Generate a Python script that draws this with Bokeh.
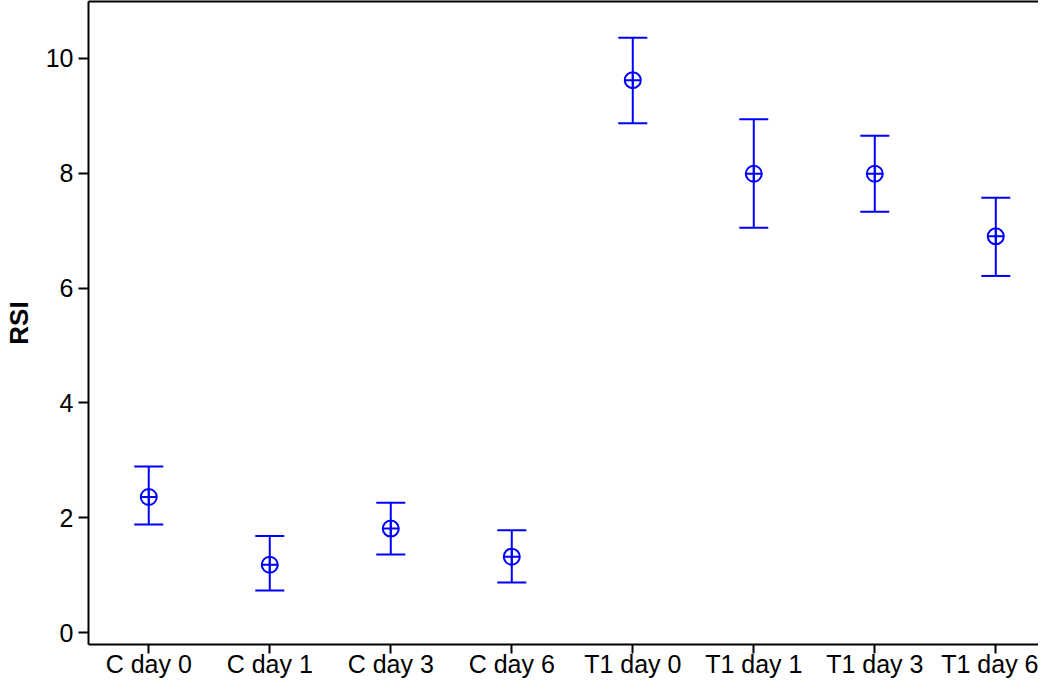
from bokeh.plotting import figure
from bokeh.models import FixedTicker, LinearAxis, Range1d, ColumnDataSource
from bokeh.embed import file_html
from bokeh.resources import INLINE

categories = ["C day 0", "C day 1", "C day 3", "C day 6",
              "T1 day 0", "T1 day 1", "T1 day 3", "T1 day 6"]
means = [2.36, 1.18, 1.81, 1.32, 9.62, 7.99, 7.99, 6.90]
upper = [2.89, 1.68, 2.26, 1.78, 10.36, 8.94, 8.65, 7.57]
lower = [1.88, 0.73, 1.36, 0.87, 8.87, 7.05, 7.33, 6.21]
y_ticks = [0, 2, 4, 6, 8, 10]

xs = list(range(len(categories)))
src = ColumnDataSource(dict(x=xs, m=means, u=upper, l=lower))

BLUE = "#0000FF"
FONT = "Liberation Sans"

p = figure(width=1038, height=680, output_backend="svg", toolbar_location=None,
           x_range=Range1d(-0.498, 7.353), y_range=Range1d(-0.209, 10.99),
           min_border_left=88, min_border_right=0, min_border_top=1, min_border_bottom=36)
p.grid.visible = False
p.outline_line_color = None
p.background_fill_color = "white"
p.border_fill_color = "white"

p.segment(x0="x", y0="l", x1="x", y1="u", source=src, line_color=BLUE, line_width=2)
p.scatter(x="x", y="u", source=src, marker="dash", size=29, line_color=BLUE, line_width=2)
p.scatter(x="x", y="l", source=src, marker="dash", size=29, line_color=BLUE, line_width=2)
p.scatter(x="x", y="m", source=src, marker="circle_cross", size=16, fill_color=None,
          line_color=BLUE, line_width=2)

for ax in (p.xaxis[0], p.yaxis[0]):
    ax.axis_line_width = 2
    ax.axis_line_color = "black"
    ax.major_tick_line_width = 2
    ax.major_tick_line_color = "black"
    ax.major_tick_out = 10
    ax.major_tick_in = 0
    ax.minor_tick_line_color = None
    ax.major_label_text_font = FONT
    ax.major_label_text_font_size = "25px"
    ax.major_label_text_color = "black"

p.xaxis.ticker = FixedTicker(ticks=xs)
p.xaxis.major_label_overrides = {i: c for i, c in enumerate(categories)}
p.xaxis.major_tick_out = 9
p.xaxis.major_label_standoff = -4

p.yaxis.ticker = FixedTicker(ticks=y_ticks)
p.yaxis.major_label_standoff = 5
p.yaxis.axis_label = "RSI"
p.yaxis.axis_label_text_font = FONT
p.yaxis.axis_label_text_font_size = "26px"
p.yaxis.axis_label_text_font_style = "bold"
p.yaxis.axis_label_text_color = "black"
p.yaxis.axis_label_standoff = 9

top = LinearAxis(ticker=FixedTicker(ticks=[]), axis_line_width=2, axis_line_color="black",
                 major_tick_line_color=None, minor_tick_line_color=None,
                 major_label_text_font_size="0px", major_tick_out=0, major_tick_in=0,
                 major_label_standoff=0)
p.add_layout(top, "above")

open("out.html", "w").write(file_html(p, INLINE))
